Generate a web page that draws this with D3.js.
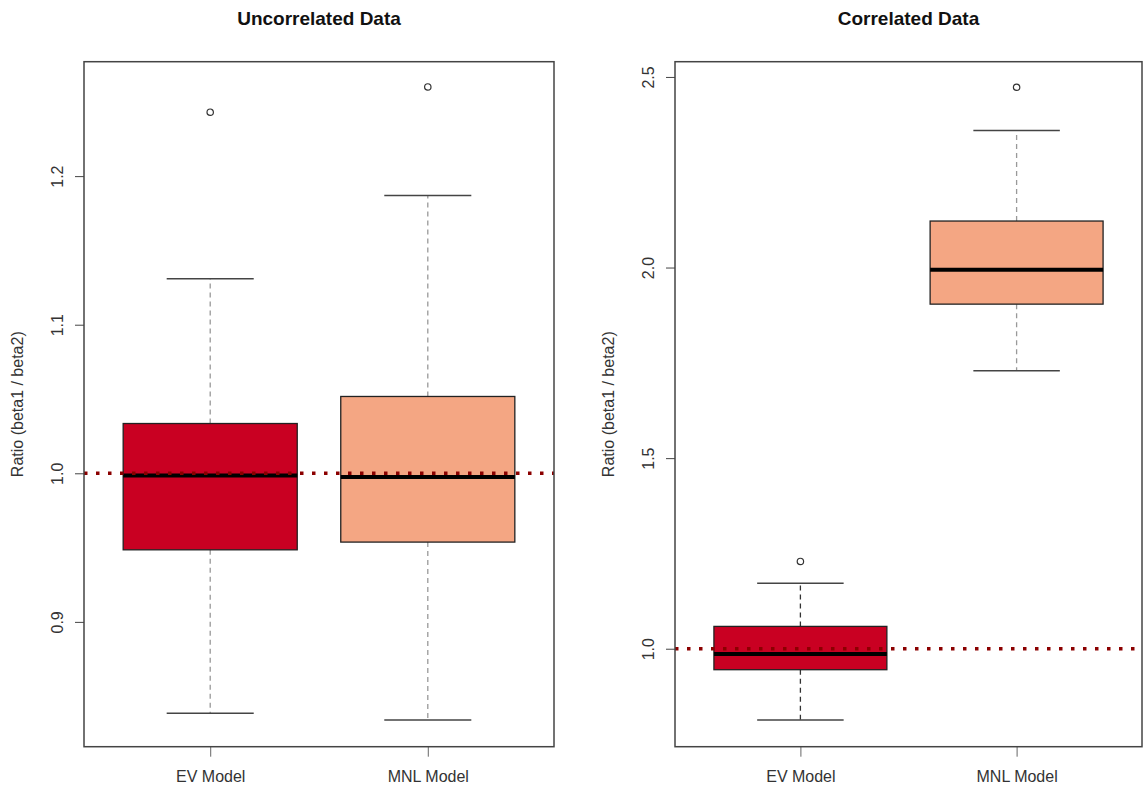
<!DOCTYPE html>
<html>
<head>
<meta charset="utf-8">
<script src="https://cdn.jsdelivr.net/npm/d3@7"></script>
<style>
  body { margin: 0; background: #fff; }
  text { font-family: "Liberation Sans", Arial, sans-serif; }
</style>
</head>
<body>
<script>
// Boxplot data: [lower whisker, Q1, median, Q3, upper whisker]
var models = ["EV Model", "MNL Model"];

var uncorrEV  = [0.8385, 0.9485, 0.9985, 1.0335, 1.131];
var uncorrMNL = [0.834, 0.9537, 0.9975, 1.0517, 1.187];
var uncorrOutliers = [[1.243], [1.26]];
var uncorrTicks = [0.9, 1.0, 1.1, 1.2];

var corrEV  = [0.813, 0.945, 0.986, 1.0586, 1.172];
var corrMNL = [1.729, 1.904, 1.994, 2.122, 2.3595];
var corrOutliers = [[1.229], [2.473]];
var corrTicks = [1.0, 1.5, 2.0, 2.5];

var refLine = 1.0;
var boxColors = ["#C90022", "#F4A683"];

var svgWidth = 1144, svgHeight = 791;
var svg = d3.select("body").append("svg")
    .attr("width", svgWidth).attr("height", svgHeight);

var panels = [
  {title: "Uncorrelated Data", stats: [uncorrEV, uncorrMNL], outliers: uncorrOutliers,
   ticks: uncorrTicks, domain: [0.816, 1.277], left: 84, right: 554,
   whiskerColors: ["#999", "#999"]},
  {title: "Correlated Data", stats: [corrEV, corrMNL], outliers: corrOutliers,
   ticks: corrTicks, domain: [0.743, 2.54], left: 675, right: 1142,
   whiskerColors: ["#333", "#999"]}
];
var plotTop = 61.7, plotBottom = 746.7;

panels.forEach(function(p) {
  var width = p.right - p.left, height = plotBottom - plotTop;
  var g = svg.append("g").attr("transform", "translate(" + p.left + "," + plotTop + ")");

  var x = d3.scalePoint().domain(models).range([0, width]).padding(0.58);
  var y = d3.scaleLinear().domain(p.domain).range([height, 0]);
  var boxW = x.step() * 0.8, capW = x.step() * 0.4;

  // title
  svg.append("text")
      .attr("x", p.left + width / 2).attr("y", 25)
      .attr("text-anchor", "middle")
      .attr("font-size", "19px").attr("font-weight", "bold")
      .attr("fill", "#111")
      .text(p.title);

  // y axis, labels rotated like R
  var yAxis = g.append("g")
      .call(d3.axisLeft(y).tickValues(p.ticks).tickSize(9).tickFormat(d3.format(".1f")));
  yAxis.select(".domain").remove();
  yAxis.selectAll("line").attr("stroke", "#444");
  yAxis.selectAll("text")
      .attr("transform", "rotate(-90)")
      .attr("x", 0).attr("y", -21).attr("dy", 0)
      .attr("text-anchor", "middle")
      .attr("font-size", "16px").attr("fill", "#333");

  // x axis
  var xAxis = g.append("g")
      .attr("transform", "translate(0," + height + ")")
      .call(d3.axisBottom(x).tickSize(10).tickPadding(14));
  xAxis.select(".domain").remove();
  xAxis.selectAll("line").attr("stroke", "#666");
  xAxis.selectAll("text").attr("font-size", "16px").attr("fill", "#333");

  // y title
  g.append("text")
      .attr("transform", "translate(-61," + (height / 2) + ")rotate(-90)")
      .attr("text-anchor", "middle")
      .attr("font-size", "16px").attr("fill", "#333")
      .text("Ratio (beta1 / beta2)");

  // boxes
  var boxes = g.selectAll(".box").data(p.stats).enter().append("g")
      .attr("class", "box")
      .attr("transform", function(d, i) { return "translate(" + x(models[i]) + ",0)"; });

  // whiskers
  boxes.append("line")
      .attr("y1", function(d) { return y(d[3]); }).attr("y2", function(d) { return y(d[4]); })
      .attr("stroke", function(d, i) { return p.whiskerColors[i]; })
      .attr("stroke-width", 1.3).attr("stroke-dasharray", "5,4");
  boxes.append("line")
      .attr("y1", function(d) { return y(d[1]); }).attr("y2", function(d) { return y(d[0]); })
      .attr("stroke", function(d, i) { return p.whiskerColors[i]; })
      .attr("stroke-width", 1.3).attr("stroke-dasharray", "5,4");
  [0, 4].forEach(function(k) {
    boxes.append("line")
        .attr("x1", -capW / 2).attr("x2", capW / 2)
        .attr("y1", function(d) { return y(d[k]); }).attr("y2", function(d) { return y(d[k]); })
        .attr("stroke", "#444").attr("stroke-width", 1.5);
  });

  boxes.append("rect")
      .attr("x", -boxW / 2).attr("width", boxW)
      .attr("y", function(d) { return y(d[3]); })
      .attr("height", function(d) { return y(d[1]) - y(d[3]); })
      .attr("fill", function(d, i) { return boxColors[i]; })
      .attr("stroke", "#222").attr("stroke-width", 1.3);

  boxes.append("line")
      .attr("x1", -boxW / 2).attr("x2", boxW / 2)
      .attr("y1", function(d) { return y(d[2]); }).attr("y2", function(d) { return y(d[2]); })
      .attr("stroke", "#000").attr("stroke-width", 4);

  // outliers
  boxes.each(function(d, i) {
    d3.select(this).selectAll("circle").data(p.outliers[i]).enter().append("circle")
        .attr("cx", 0).attr("cy", function(v) { return y(v); })
        .attr("r", 3.2)
        .attr("fill", "none").attr("stroke", "#333").attr("stroke-width", 1.2);
  });

  // reference line at 1
  g.append("line")
      .attr("x1", 0).attr("x2", width)
      .attr("y1", y(refLine)).attr("y2", y(refLine))
      .attr("stroke", "#8B0000").attr("stroke-width", 3.5)
      .attr("stroke-dasharray", "3.5,8.5");

  // frame
  g.append("rect")
      .attr("width", width).attr("height", height)
      .attr("fill", "none").attr("stroke", "#444").attr("stroke-width", 1.5);
});
</script>
</body>
</html>
